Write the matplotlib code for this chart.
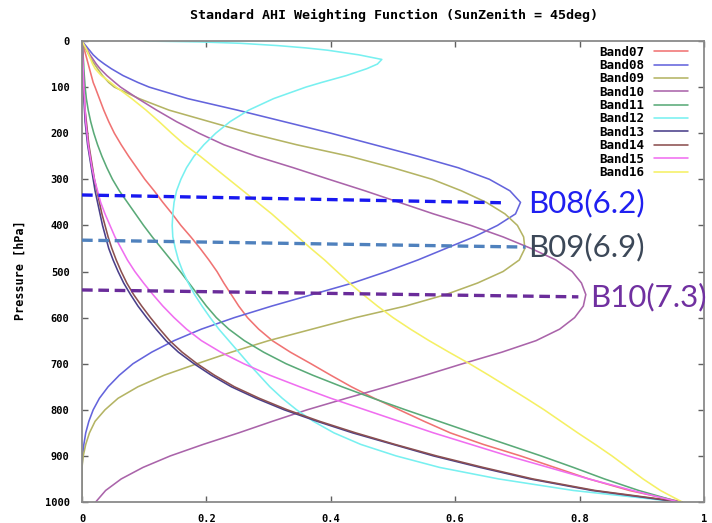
import matplotlib
matplotlib.use("Agg")
import matplotlib.pyplot as plt

# ---------------- data ----------------
pressure = [0, 2, 5, 10, 15, 20, 30, 40, 50, 60, 75, 90,
            100, 125, 150, 175, 200, 225, 250, 275,
            300, 325, 350, 375, 400, 425, 450, 475,
            500, 525, 550, 575, 600, 625, 650, 675,
            700, 725, 750, 775, 800, 825, 850, 875,
            900, 925, 950, 975, 1000]

band_names = ["Band07", "Band08", "Band09", "Band10", "Band11",
              "Band12", "Band13", "Band14", "Band15", "Band16"]

band07 = [0, 0.0005, 0.001, 0.002, 0.003, 0.004, 0.006, 0.008, 0.010, 0.012, 0.015, 0.018,
          0.021, 0.028, 0.035, 0.043, 0.052, 0.063, 0.075, 0.088,
          0.101, 0.116, 0.130, 0.145, 0.159, 0.175, 0.190, 0.204,
          0.217, 0.228, 0.240, 0.252, 0.266, 0.284, 0.306, 0.335,
          0.368, 0.400, 0.433, 0.470, 0.510, 0.550, 0.592, 0.645,
          0.705, 0.760, 0.815, 0.880, 0.965]
band08 = [0, 0.001, 0.003, 0.006, 0.009, 0.012, 0.018, 0.026, 0.036, 0.047, 0.066, 0.090,
          0.108, 0.170, 0.250, 0.325, 0.400, 0.470, 0.540, 0.605,
          0.655, 0.688, 0.705, 0.697, 0.668, 0.630, 0.585, 0.540,
          0.490, 0.435, 0.370, 0.305, 0.245, 0.192, 0.148, 0.112,
          0.082, 0.060, 0.042, 0.028, 0.018, 0.011, 0.006, 0.003,
          0.001, 0, 0, 0, 0]
band09 = [0, 0.0005, 0.001, 0.003, 0.005, 0.007, 0.011, 0.015, 0.020, 0.025, 0.033, 0.043,
          0.052, 0.092, 0.140, 0.205, 0.270, 0.345, 0.430, 0.500,
          0.563, 0.610, 0.650, 0.680, 0.700, 0.710, 0.712, 0.703,
          0.677, 0.636, 0.585, 0.520, 0.440, 0.370, 0.300, 0.240,
          0.185, 0.132, 0.090, 0.058, 0.037, 0.021, 0.012, 0.006,
          0.002, 0, 0, 0, 0]
band10 = [0, 0.0005, 0.002, 0.004, 0.006, 0.009, 0.013, 0.018, 0.023, 0.029, 0.040, 0.053,
          0.062, 0.090, 0.120, 0.152, 0.188, 0.228, 0.280, 0.340,
          0.397, 0.455, 0.510, 0.565, 0.625, 0.677, 0.722, 0.762,
          0.788, 0.803, 0.810, 0.806, 0.792, 0.768, 0.730, 0.675,
          0.612, 0.552, 0.490, 0.425, 0.362, 0.306, 0.252, 0.195,
          0.142, 0.098, 0.063, 0.038, 0.022]
band11 = [0, 0, 0.0003, 0.0006, 0.001, 0.0013, 0.0018, 0.0022, 0.0027, 0.003, 0.0037, 0.0045,
          0.005, 0.007, 0.010, 0.014, 0.019, 0.025, 0.032, 0.040,
          0.049, 0.060, 0.073, 0.086, 0.099, 0.113, 0.128, 0.143,
          0.158, 0.172, 0.186, 0.200, 0.216, 0.236, 0.261, 0.292,
          0.328, 0.371, 0.418, 0.468, 0.520, 0.574, 0.628, 0.683,
          0.738, 0.790, 0.840, 0.895, 0.960]
band12 = [0.100, 0.190, 0.255, 0.315, 0.360, 0.395, 0.445, 0.482, 0.475, 0.458, 0.425, 0.385,
          0.360, 0.308, 0.268, 0.238, 0.215, 0.196, 0.180, 0.168,
          0.159, 0.152, 0.148, 0.146, 0.145, 0.146, 0.150, 0.155,
          0.162, 0.171, 0.181, 0.193, 0.206, 0.220, 0.236, 0.252,
          0.268, 0.285, 0.302, 0.322, 0.345, 0.372, 0.405, 0.448,
          0.505, 0.575, 0.670, 0.790, 0.960]
band13 = [0, 0, 0, 0.0002, 0.0004, 0.0005, 0.0008, 0.001, 0.0012, 0.0014, 0.0016, 0.0018,
          0.002, 0.003, 0.004, 0.005, 0.007, 0.009, 0.012, 0.015,
          0.018, 0.021, 0.025, 0.029, 0.033, 0.038, 0.043, 0.050,
          0.058, 0.067, 0.078, 0.090, 0.104, 0.119, 0.135, 0.155,
          0.180, 0.208, 0.240, 0.280, 0.325, 0.378, 0.435, 0.500,
          0.565, 0.640, 0.720, 0.820, 0.960]
band14 = [0, 0, 0, 0.0003, 0.0005, 0.0007, 0.001, 0.0013, 0.0016, 0.0019, 0.0022, 0.0025,
          0.003, 0.004, 0.005, 0.007, 0.009, 0.011, 0.014, 0.017,
          0.020, 0.024, 0.028, 0.032, 0.037, 0.042, 0.048, 0.055,
          0.063, 0.072, 0.083, 0.096, 0.110, 0.125, 0.141, 0.161,
          0.185, 0.213, 0.245, 0.285, 0.330, 0.382, 0.440, 0.503,
          0.570, 0.645, 0.725, 0.825, 0.965]
band15 = [0, 0, 0, 0.0003, 0.0005, 0.0007, 0.001, 0.0013, 0.0016, 0.0019, 0.0023, 0.0027,
          0.003, 0.004, 0.005, 0.006, 0.008, 0.010, 0.013, 0.016,
          0.020, 0.025, 0.030, 0.037, 0.045, 0.053, 0.063, 0.073,
          0.085, 0.099, 0.114, 0.130, 0.148, 0.168, 0.192, 0.223,
          0.260, 0.302, 0.350, 0.400, 0.455, 0.510, 0.565, 0.625,
          0.685, 0.750, 0.815, 0.885, 0.960]
band16 = [0, 0.0005, 0.002, 0.004, 0.006, 0.008, 0.011, 0.014, 0.017, 0.021, 0.031, 0.046,
          0.055, 0.080, 0.103, 0.124, 0.144, 0.165, 0.190, 0.213,
          0.236, 0.259, 0.282, 0.305, 0.326, 0.347, 0.368, 0.390,
          0.410, 0.430, 0.452, 0.475, 0.500, 0.528, 0.558, 0.590,
          0.623, 0.654, 0.684, 0.714, 0.743, 0.770, 0.797, 0.825,
          0.852, 0.877, 0.902, 0.930, 0.965]

bands = [band07, band08, band09, band10, band11,
         band12, band13, band14, band15, band16]

# annotations: peak levels of B08/B09/B10
ann_labels = ["B08(6.2)", "B09(6.9)", "B10(7.3)"]
ann_p_start = [334, 432, 540]
ann_p_end = [351, 447, 555]
ann_x_end = [0.681, 0.713, 0.798]
ann_text_x = [0.718, 0.718, 0.817]

xticks = [0, 0.2, 0.4, 0.6, 0.8, 1.0]
xtick_labels = ["0", "0.2", "0.4", "0.6", "0.8", "1"]
yticks = [0, 100, 200, 300, 400, 500, 600, 700, 800, 900, 1000]

# ---------------- style ----------------
band_colors = ["#f07373", "#6464dc", "#b4b464", "#aa64aa", "#5aaa78",
               "#78f0f0", "#4a3f8a", "#8c5050", "#f06ef0", "#f5f064"]
ann_line_colors = ["#1818f0", "#4f81bd", "#6a2c9a"]
ann_text_colors = ["#2020f0", "#3c4858", "#7030a0"]

mono = "DejaVu Sans Mono"

W, H = 712, 523
fig = plt.figure(figsize=(W / 100, H / 100), dpi=100)
fig.patch.set_facecolor("white")
x0, x1, y0, y1 = 82, 704, 41, 502
ax = fig.add_axes([x0 / W, 1 - y1 / H, (x1 - x0) / W, (y1 - y0) / H])

for name, vals, col in zip(band_names, bands, band_colors):
    ax.plot(vals, pressure, color=col, lw=1.15, label=name,
            solid_joinstyle="round", solid_capstyle="round")

for lab, ps, pe, xe, tx, lc, tc in zip(ann_labels, ann_p_start, ann_p_end, ann_x_end,
                                       ann_text_x, ann_line_colors, ann_text_colors):
    ax.plot([0, xe], [ps, pe], color=lc, lw=2.4, dashes=(3.2, 1.7), zorder=5)
    ax.text(tx, pe, lab, color=tc, fontsize=22.5, family="Lato",
            ha="left", va="center", zorder=6)

ax.set_xlim(0, 1)
ax.set_ylim(1000, 0)
ax.set_xticks(xticks)
ax.set_xticklabels(xtick_labels)
ax.set_yticks(yticks)
ax.tick_params(direction="in", length=4, width=1.0, color="#606060",
               top=True, right=True, labelsize=7.5, pad=9)
for lbl in ax.get_xticklabels() + ax.get_yticklabels():
    lbl.set_family(mono)
    lbl.set_fontweight("bold")
for s in ax.spines.values():
    s.set_color("#8a8a8a")
    s.set_linewidth(1.3)

leg = ax.legend(loc="upper right", bbox_to_anchor=(0.974, 0.990), frameon=False,
                markerfirst=False, borderpad=0, borderaxespad=0,
                handlelength=2.7, handletextpad=0.75, labelspacing=0.03,
                prop={"family": mono, "weight": "bold", "size": 9})

fig.text(394 / W, 1 - 15 / H, "Standard AHI Weighting Function (SunZenith = 45deg)",
         ha="center", va="center", family=mono, fontweight="bold", fontsize=9.6)
fig.text(20 / W, 1 - 270 / H, "Pressure [hPa]", rotation=90, ha="center", va="center",
         family=mono, fontweight="bold", fontsize=8.5)

fig.savefig("out.png", dpi=100)
